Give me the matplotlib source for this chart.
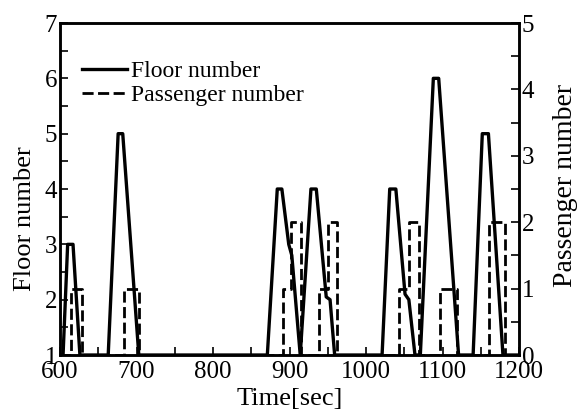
import matplotlib
matplotlib.use('Agg')
import matplotlib.pyplot as plt
from matplotlib.ticker import MultipleLocator

# 数据: 楼层 (左轴)
floor_t = [600, 604, 610, 617, 626, 663, 676, 682, 703, 871, 884, 890, 899, 903, 914,
           928, 935, 948, 953, 959, 1021, 1031, 1039, 1051, 1056, 1064, 1071, 1088, 1095,
           1121, 1140, 1152, 1160, 1179, 1200]
floor_v = [1, 1, 3, 3, 1, 1, 5, 5, 1, 1, 4, 4, 3, 2.8, 1,
           4, 4, 2.05, 2, 1, 1, 4, 4, 2.1, 2, 1, 1, 6, 6,
           1, 1, 5, 5, 1, 1]

# 数据: 乘客数 (右轴, 阶梯)
pass_t = [600, 615, 629, 684, 703, 891, 902, 915, 939, 950, 962, 1043, 1056, 1069,
          1097, 1119, 1161, 1182, 1200]
pass_v = [0, 1, 0, 1, 0, 1, 2, 0, 1, 2, 0, 1, 2, 0, 1, 0, 2, 0, 0]

xticks = [600, 700, 800, 900, 1000, 1100, 1200]

plt.rcParams['font.family'] = ['Liberation Serif', 'DejaVu Serif']

fig = plt.figure(figsize=(5.86, 4.13), dpi=100)
ax = fig.add_axes([0.1024, 0.1404, 0.7833, 0.8039])
ax2 = ax.twinx()

ln1, = ax.plot(floor_t, floor_v, color='black', lw=2.4, solid_joinstyle='round',
               label='Floor number')
ln2, = ax2.plot(pass_t, pass_v, color='black', lw=2.0, drawstyle='steps-post',
                linestyle=(0, (4, 1.6)), label='Passenger number')

ax.set_xlim(600, 1200)
ax.set_ylim(1, 7)
ax2.set_ylim(0, 5)
ax.set_xticks(xticks)
ax.xaxis.set_minor_locator(MultipleLocator(50))
ax.yaxis.set_minor_locator(MultipleLocator(0.5))
ax2.yaxis.set_minor_locator(MultipleLocator(0.5))

for a in (ax, ax2):
    for s in a.spines.values():
        s.set_linewidth(1.8)
    a.tick_params(which='both', direction='in', width=1.2, length=6, labelsize=18)
ax.tick_params(axis='x', pad=4)
ax.tick_params(axis='y', pad=2)
ax2.tick_params(axis='y', pad=2)

ax.set_xlabel('Time[sec]', fontsize=19)
ax.xaxis.set_label_coords(0.5, -0.1)
ax.set_ylabel('Floor number', fontsize=19)
ax.yaxis.set_label_coords(-0.052, 0.41)
ax2.set_ylabel('Passenger number', fontsize=20)
ax2.yaxis.set_label_coords(1.075, 0.51)

leg = ax.legend(handles=[ln1, ln2], loc='upper left', frameon=False, fontsize=17,
                handlelength=1.9, handletextpad=0.15, labelspacing=0.1,
                bbox_to_anchor=(0.028, 0.915), borderaxespad=0)

fig.savefig('out.png', dpi=100)
